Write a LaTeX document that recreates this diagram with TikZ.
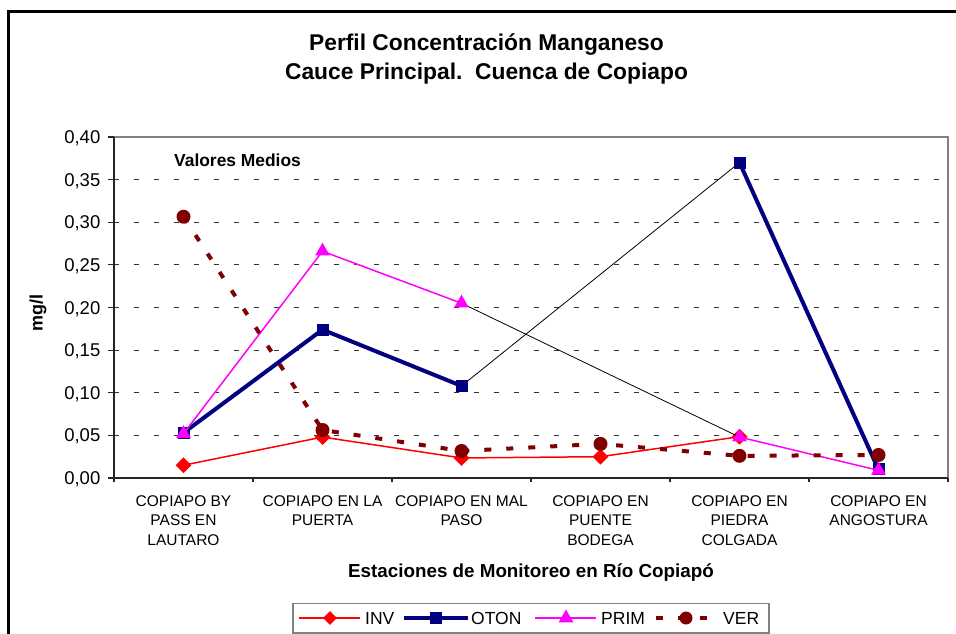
\documentclass[tikz,border=0pt]{standalone}
\usepackage{fontspec}
\setmainfont{Liberation Sans}
\usetikzlibrary{shapes.geometric}
\definecolor{invcolor}{RGB}{255,0,0}
\definecolor{otoncolor}{RGB}{0,0,128}
\definecolor{primcolor}{RGB}{255,0,255}
\definecolor{vercolor}{RGB}{128,0,0}
\definecolor{framegray}{RGB}{128,128,128}
\tikzset{
  gridline/.style={black!80, line width=0.8pt, dash pattern=on 4.5pt off 15.5pt},
  invline/.style={invcolor, line width=1.5pt},
  otonline/.style={otoncolor, line width=4pt},
  primline/.style={primcolor, line width=1.5pt},
  verline/.style={vercolor, line width=4pt, dash pattern=on 7pt off 15pt},
  gapline/.style={black, line width=0.8pt},
  invmark/.style={diamond, fill=invcolor, inner sep=0pt, minimum size=16pt},
  otonmark/.style={rectangle, fill=otoncolor, inner sep=0pt, minimum size=12pt},
  primmark/.style={regular polygon, regular polygon sides=3, fill=primcolor, inner sep=0pt, minimum size=17pt},
  vermark/.style={circle, fill=vercolor, inner sep=0pt, minimum size=14pt},
}
\begin{document}
\begin{tikzpicture}[x=1pt, y=-1pt]
  \useasboundingbox (0,0) rectangle (956,634);
  \clip (0,0) rectangle (956,634);
  % Frame
  \draw[line width=3pt] (8.5,11.3) rectangle (1000,700);
  % Header
  \node (title1) [font=\bfseries\fontsize{22.8}{27}\selectfont, anchor=base, inner sep=0pt] at (486.5,50.5) {Perfil Concentración Manganeso};
  \node (title2) [font=\bfseries\fontsize{22.8}{27}\selectfont, anchor=base, inner sep=0pt] at (486.5,79.5) {Cauce Principal.\ \ Cuenca de Copiapo};
  \node (ylabel) [font=\bfseries\fontsize{18}{22}\selectfont, rotate=90, inner sep=0pt] at (38,313) {mg/l};
  \node (xlabel) [font=\bfseries\fontsize{18.8}{22}\selectfont, anchor=base, inner sep=0pt] at (531,577) {Estaciones de Monitoreo en Río Copiapó};
  \node (medios) [font=\bfseries\fontsize{17.4}{21}\selectfont, anchor=base west, inner sep=0pt] at (174,166) {Valores Medios};
  \begin{scope}[shift={(114,478)}, x=139pt, y=852.5pt]
    % Grid and axes
    \foreach \k in {1,...,7}
      \draw[gridline] (0,\k*0.05) -- (6,\k*0.05);
    \draw[framegray, line width=1.5pt] (0,0.4) -- (6,0.4) -- (6,0);
    \draw[black!85, line width=1.3pt] (0,0.4) -- (0,0) -- (6,0);
    \foreach \k/\t in {0/{0,00},1/{0,05},2/{0,10},3/{0,15},4/{0,20},5/{0,25},6/{0,30},7/{0,35},8/{0,40}} {
      \draw[black!85, line width=1.2pt] (0,\k*0.05) -- ++(-6pt,0pt);
      \node (ytick\k) [font=\fontsize{18.5}{22}\selectfont, anchor=base east, inner sep=0pt] at ([xshift=-13.5pt, yshift=-6.6pt]0,\k*0.05) {\t};
    }
    \foreach \k in {0,...,6}
      \draw[black!85, line width=1.2pt] (\k,0) -- ++(0pt,-4pt);
    \foreach \i/\t in {1/{COPIAPO BY\\PASS EN\\LAUTARO}, 2/{COPIAPO EN LA\\PUERTA}, 3/{COPIAPO EN MAL\\PASO}, 4/{COPIAPO EN\\PUENTE\\BODEGA}, 5/{COPIAPO EN\\PIEDRA\\COLGADA}, 6/{COPIAPO EN\\ANGOSTURA}}
      \node (cat\i) [font=\fontsize{15.5}{19.5}\selectfont, align=center, anchor=north, inner sep=0pt] at ([yshift=-17pt]\i-0.5,0) {\t};
    % Data points
    \foreach \v [count=\i] in {0.015,0.048,0.0235,0.025,0.0485}
      \coordinate (inv\i) at (\i-0.5,\v);
    \foreach \i/\v in {1/0.053,2/0.174,3/0.108,5/0.370,6/0.010}
      \coordinate (oton\i) at (\i-0.5,\v);
    \foreach \i/\v in {1/0.052,2/0.266,3/0.205,5/0.048,6/0.009}
      \coordinate (prim\i) at (\i-0.5,\v);
    \foreach \v [count=\i] in {0.3065,0.0563,0.0317,0.040,0.026,0.027}
      \coordinate (ver\i) at (\i-0.5,\v);
    % INV
    \draw[invline] (inv1) -- (inv2) -- (inv3) -- (inv4) -- (inv5);
    \foreach \i in {1,...,5}
      \node (invm\i) [invmark] at (inv\i) {};
    % OTON
    \draw[otonline] (oton1) -- (oton2) -- (oton3);
    \draw[otonline] (oton5) -- (oton6);
    \draw[gapline] (oton3) -- (oton5);
    \foreach \i in {1,2,3,5,6}
      \node (otonm\i) [otonmark] at (oton\i) {};
    % PRIM
    \draw[primline] (prim1) -- (prim2) -- (prim3);
    \draw[primline] (prim5) -- (prim6);
    \draw[gapline] (prim3) -- (prim5);
    \foreach \i in {1,2,3,5,6}
      \node (primm\i) [primmark] at (prim\i) {};
    % VER
    \draw[verline] (ver1) -- (ver2) -- (ver3) -- (ver4) -- (ver5) -- (ver6);
    \foreach \i in {1,...,6}
      \node (verm\i) [vermark] at (ver\i) {};
  \end{scope}
  % Legend
  \node (legend) [draw=framegray, line width=1.2pt, fill=white, minimum width=476pt, minimum height=29.5pt, inner sep=0pt] at (531,618.25) {};
  \draw[invline] (299,618) -- (360,618);
  \node (invkey) [invmark, minimum size=14pt] at (330,618) {};
  \node (invtxt) [font=\fontsize{17.5}{21}\selectfont, anchor=west, inner sep=0pt] at (365,618) {INV};
  \draw[otonline] (404,618) -- (468,618);
  \node (otonkey) [otonmark] at (436,618) {};
  \node (otontxt) [font=\fontsize{17.5}{21}\selectfont, anchor=west, inner sep=0pt] at (471,618) {OTON};
  \draw[primline] (535,618) -- (596,618);
  \node (primkey) [primmark] at (566,618) {};
  \node (primtxt) [font=\fontsize{17.5}{21}\selectfont, anchor=west, inner sep=0pt] at (601,618) {PRIM};
  \draw[verline] (656,618) -- (708,618);
  \node (verkey) [vermark, minimum size=13pt] at (686,618) {};
  \node (vertxt) [font=\fontsize{17.5}{21}\selectfont, anchor=west, inner sep=0pt] at (723,618) {VER};
\end{tikzpicture}
\end{document}
